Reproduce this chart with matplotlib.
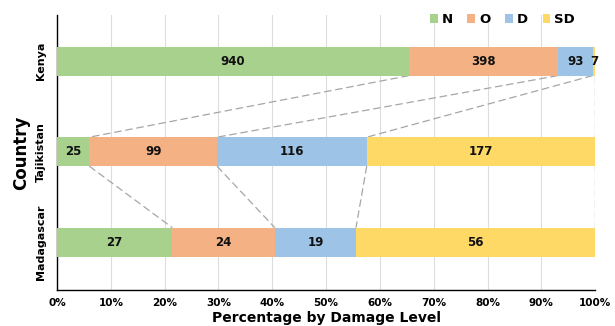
import matplotlib
matplotlib.use("Agg")
import matplotlib.pyplot as plt
import numpy as np

countries = ["Madagascar", "Tajikistan", "Kenya"]
levels = ["N", "O", "D", "SD"]
counts = {
    "Madagascar": [27, 24, 19, 56],
    "Tajikistan": [25, 99, 116, 177],
    "Kenya": [940, 398, 93, 7],
}
colors = ["#A9D18E", "#F4B183", "#9DC3E6", "#FFD966"]

fig = plt.figure(figsize=(6.15, 3.26), dpi=100)
ax = fig.add_axes([0.0927, 0.110, 0.875, 0.844])

ypos = np.arange(len(countries))
bar_h = 0.32
cum_all = []
for i, c in enumerate(countries):
    vals = np.array(counts[c], dtype=float)
    pct = vals / vals.sum() * 100
    left = np.concatenate([[0], np.cumsum(pct)[:-1]])
    cum_all.append(np.cumsum(pct))
    for j, lvl in enumerate(levels):
        ax.barh(ypos[i], pct[j], left=left[j], height=bar_h, color=colors[j],
                edgecolor="none", zorder=3, label=lvl if i == 0 else None)
        ax.text(left[j] + pct[j] / 2, ypos[i], f"{int(vals[j])}",
                ha="center", va="center", fontsize=8.5, fontweight="bold",
                color="#111111", zorder=4)

# dashed connectors between cumulative boundaries of neighbouring bars
for i in range(len(countries) - 1):
    lower, upper = cum_all[i], cum_all[i + 1]
    for k in range(len(levels)):
        ax.plot([upper[k], lower[k]], [ypos[i + 1] - bar_h / 2, ypos[i] + bar_h / 2],
                ls=(0, (6, 3)), color="#A6A6A6", lw=0.9, zorder=2)

ax.set_xlim(0, 100)
ax.set_ylim(-0.53, 2.51)
ax.set_xticks(np.arange(0, 101, 10))
ax.set_xticklabels([f"{t}%" for t in range(0, 101, 10)], fontsize=7.5, fontweight="bold")
ax.set_yticks(ypos)
ax.set_yticklabels(countries, rotation=90, va="center", fontsize=8, fontweight="bold")
ax.tick_params(axis="x", length=0, pad=6)
ax.tick_params(axis="y", length=0, pad=8)
ax.grid(axis="x", color="#DDDDDD", lw=0.8, zorder=0)
for s in ["top", "right"]:
    ax.spines[s].set_visible(False)
for s in ["left", "bottom"]:
    ax.spines[s].set_color("black")
    ax.spines[s].set_linewidth(1.0)

ax.set_xlabel("Percentage by Damage Level", fontsize=10, fontweight="bold", labelpad=2)
ax.set_ylabel("Country", fontsize=12, fontweight="bold", labelpad=4)

leg = ax.legend(loc="upper right", bbox_to_anchor=(0.985, 1.05), ncol=4, frameon=False,
                handlelength=0.6, handleheight=0.6, handletextpad=0.3,
                columnspacing=1.1, prop={"weight": "bold", "size": 9.5})

fig.savefig("out.png", dpi=100)
